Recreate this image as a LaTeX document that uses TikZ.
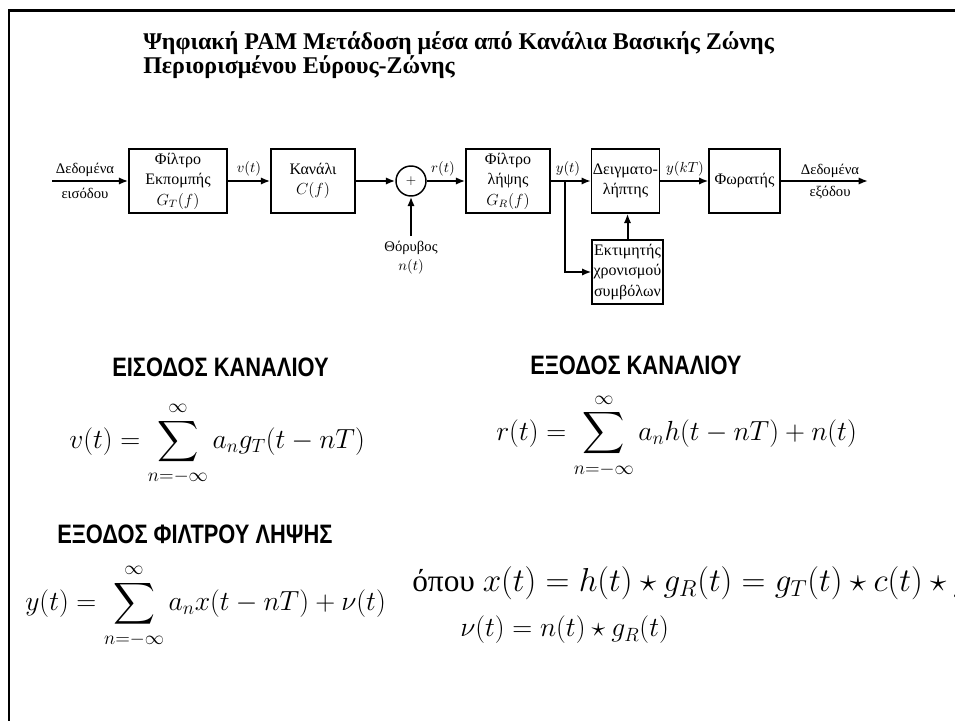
\documentclass[tikz,border=0pt]{standalone}
\usepackage[no-math]{fontspec}
\usepackage{amsmath,amssymb}
\setmainfont{Liberation Serif}
\newfontfamily\headfont[FakeStretch=0.82]{Liberation Sans}
\usetikzlibrary{arrows.meta,positioning,calc}

\begin{document}
\begin{tikzpicture}[x=0.75pt, y=-0.75pt,
  block/.style={rectangle, draw, line width=1.1pt, minimum height=48pt, align=center, font=\fontsize{12}{15.4}\selectfont, inner sep=1pt},
  sumnode/.style={circle, draw, line width=1.1pt, minimum size=22.5pt, inner sep=0pt},
  lbl/.style={font=\fontsize{11}{13}\selectfont, inner sep=1pt},
  arr/.style={-{Latex[length=7pt,width=5.5pt]}, line width=1.5pt},
  head/.style={font=\headfont\bfseries\fontsize{20}{24}\selectfont, anchor=west, inner sep=0pt},
  eq/.style={font=\fontsize{#1}{26}\selectfont, anchor=west, inner sep=0pt},
  eq/.default=21
]
  \clip (0,0) rectangle (955,720);

  % frame
  \draw[line width=2.2pt] (9,730) -- (9,10.5) -- (965,10.5);

  % title
  \node[anchor=base west, inner sep=0pt, font=\bfseries\fontsize{18}{22}\selectfont] (title1) at (143,50) {Ψηφιακή PAM Μετάδοση μέσα από Κανάλια Βασικής Ζώνης};
  \node[anchor=base west, inner sep=0pt, font=\bfseries\fontsize{18}{22}\selectfont] (title2) at (143,74) {Περιορισμένου Εύρους-Ζώνης};

  % block diagram
  \node[block, minimum width=73.5pt] (tx) at (178,181) {Φίλτρο\\Εκπομπής\\$G_T(f)$};
  \node[block, minimum width=63pt] (chan) at (313,181) {Κανάλι\\$C(f)$};
  \node[sumnode] (add) at (411,181) {$+$};
  \node[block, minimum width=63pt] (rx) at (508,181) {Φίλτρο\\λήψης\\$G_R(f)$};
  \node[block, minimum width=50pt] (smp) at (625.5,181) {Δειγματο-\\λήπτης};
  \node[block, minimum width=53pt] (sync) at (627.5,272) {Εκτιμητής\\χρονισμού\\συμβόλων};
  \node[block, minimum width=53pt] (det) at (744.5,181) {Φωρατής};

  \coordinate (in) at (52,181);
  \coordinate (out) at (868,181);
  \coordinate (noise) at (411,236);
  \coordinate (tap) at (565,181);

  \draw[arr] (in) -- (tx);
  \draw[arr] (tx) -- (chan);
  \draw[arr] (chan) -- (add);
  \draw[arr] (noise) -- (add);
  \draw[arr] (add) -- (rx);
  \draw[arr] (rx) -- (smp);
  \draw[arr] (tap) |- (sync.west);
  \draw[arr] (sync.north) -- (sync.north |- smp.south);
  \draw[arr] (smp) -- (det);
  \draw[arr] (det) -- (out);

  % signal labels
  \node[lbl] (din1) at (85,170) {Δεδομένα};
  \node[lbl] (din2) at (85,193) {εισόδου};
  \node[lbl] (vt) at (249,169) {$v(t)$};
  \node[lbl] (rt) at (443,169) {$r(t)$};
  \node[lbl] (yt) at (568,169) {$y(t)$};
  \node[lbl] (ykt) at (685,169) {$y(kT)$};
  \node[lbl] (dout1) at (830,171) {Δεδομένα};
  \node[lbl] (dout2) at (830,193) {εξόδου};
  \node[lbl] (nz1) at (411,248) {Θόρυβος};
  \node[lbl] (nz2) at (411,267) {$n(t)$};

  % headings and equations
  \node[head] (hin) at (112,367) {ΕΙΣΟΔΟΣ ΚΑΝΑΛΙΟΥ};
  \node[head] (hout) at (530,365) {ΕΞΟΔΟΣ ΚΑΝΑΛΙΟΥ};
  \node[head] (hrx) at (57,534) {ΕΞΟΔΟΣ ΦΙΛΤΡΟΥ ΛΗΨΗΣ};

  \node[eq=21.5] (eqv) at (69,444) {$\displaystyle v(t) = \sum_{n=-\infty}^{\infty} a_n g_T(t-nT)$};
  \node[eq=22] (eqr) at (496,436) {$\displaystyle r(t) = \sum_{n=-\infty}^{\infty} a_n h(t-nT) + n(t)$};
  \node[eq=21.8] (eqy) at (25,606) {$\displaystyle y(t) = \sum_{n=-\infty}^{\infty} a_n x(t-nT) + \nu(t)$};
  \node[eq=23.5] (eqx) at (412,583) {όπου $x(t) = h(t)\star g_R(t) = g_T(t)\star c(t)\star g_R(t)$};
  \node[eq=21.3] (eqnu) at (460,630) {$\nu(t) = n(t)\star g_R(t)$};
\end{tikzpicture}
\end{document}
